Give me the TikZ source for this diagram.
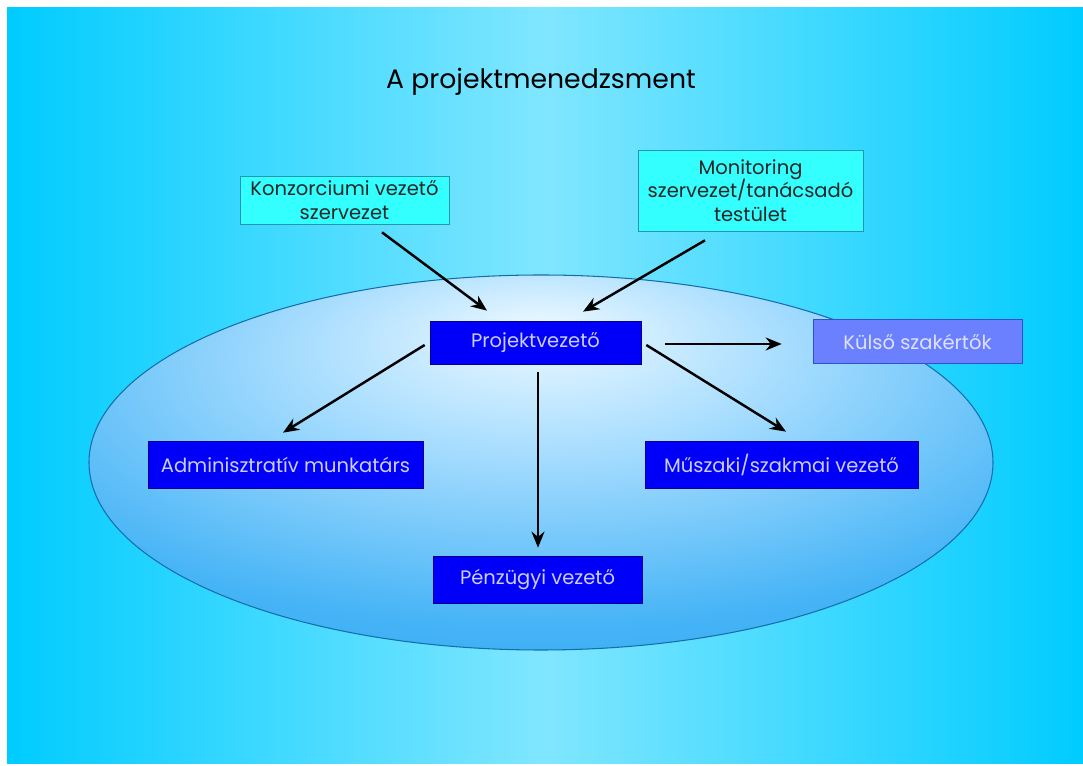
\documentclass[tikz,border=0pt]{standalone}
\usepackage{fontspec}
\setmainfont{Poppins}
\usepackage{xcolor}
\usepackage{tikz}
\usetikzlibrary{shapes, arrows.meta, positioning, calc}

\definecolor{bgedge}{RGB}{0,204,255}
\definecolor{bgmid}{RGB}{128,230,255}
\definecolor{ovalline}{RGB}{20,110,170}
\definecolor{ovalin}{RGB}{238,249,255}
\definecolor{ovalmid}{RGB}{175,224,255}
\definecolor{ovalout}{RGB}{70,180,246}
\definecolor{ovaledge}{RGB}{28,156,240}
\definecolor{cyanbox}{RGB}{51,255,255}
\definecolor{cyanline}{RGB}{40,150,170}
\definecolor{bluebox}{RGB}{0,0,250}
\definecolor{blueline}{RGB}{0,0,140}
\definecolor{bluetext}{RGB}{205,205,255}
\definecolor{lightbox}{RGB}{106,128,255}
\definecolor{lightline}{RGB}{50,80,200}

\pgfdeclareradialshading{ovalshade}{\pgfpoint{0bp}{18bp}}{%
	color(0bp)=(ovalin);
	color(12bp)=(ovalmid);
	color(32bp)=(ovalout);
	color(52bp)=(ovaledge);
	color(75bp)=(ovaledge)}

\tikzset{
	cyanstyle/.style={draw=cyanline, fill=cyanbox, text=black!85, align=center, inner sep=0pt, font=\fontsize{11.1}{13.5}\selectfont},
	bluestyle/.style={draw=blueline, fill=bluebox, text=bluetext, align=center, inner sep=0pt, font=\fontsize{11.1}{13.5}\selectfont},
	lightstyle/.style={draw=lightline, fill=lightbox, text=white!88!blue, align=center, inner sep=0pt, font=\fontsize{11.1}{13.5}\selectfont},
}

\begin{document}
\begin{tikzpicture}[x=0.02cm, y=-0.02cm, >={Stealth[length=0.32cm, width=0.26cm]}]
		\useasboundingbox (0,0) rectangle (1083,766);
		\fill[white] (0,0) rectangle (1083,766);
		\shade[left color=bgedge, right color=bgedge, middle color=bgmid] (7,8) rectangle (1083,764);

		% the oval behind the team
		\shade[shading=ovalshade] (541,462.5) ellipse [x radius=452, y radius=187.5];
		\draw[ovalline, line width=0.6pt] (541,462.5) ellipse [x radius=452, y radius=187.5];

		\node (0) at (541,82) {\fontsize{15.2}{18}\selectfont A projektmenedzsment};

		\node[cyanstyle, minimum width=4.18cm, minimum height=0.96cm] (1) at (344.5,200) {Konzorciumi vezető\\szervezet};
		\node[cyanstyle, minimum width=4.5cm, minimum height=1.62cm] (2) at (750.5,190.5) {Monitoring\\szervezet/tanácsadó\\testület};
		\node[bluestyle, minimum width=4.22cm, minimum height=0.86cm] (3) at (535.5,342.5) {Projektvezető};
		\node[lightstyle, minimum width=4.18cm, minimum height=0.88cm] (4) at (917.5,341.5) {Külső szakértők};
		\node[bluestyle, minimum width=5.5cm, minimum height=0.94cm] (5) at (285.5,464.5) {Adminisztratív munkatárs};
		\node[bluestyle, minimum width=5.46cm, minimum height=0.94cm] (6) at (781.5,464.5) {Műszaki/szakmai vezető};
		\node[bluestyle, minimum width=4.18cm, minimum height=0.94cm] (7) at (537.5,579.5) {Pénzügyi vezető};

		\draw[->, line width=1.4pt] ($(1.south)+(37.5,8)$) to ($(3.north)+(-48.5,-10)$);
		\draw[->, line width=1.4pt] ($(2.south)+(-45.5,9)$) to ($(3.north)+(47.5,-9)$);
		\draw[->, line width=1.4pt] ($(3.east)+(24,1.5)$) to ($(4.west)+(-31,2.5)$);
		\draw[->, line width=1.4pt] ($(3.west)+(-5,2.5)$) to ($(5.north)+(-2.5,-8)$);
		\draw[->, line width=1.4pt] ($(3.east)+(5,2.5)$) to ($(6.north)+(4.5,-9)$);
		\draw[->, line width=1.4pt] ($(3.south)+(2.5,8)$) to ($(7.north)+(0.5,-8)$);

	\end{tikzpicture}
\end{document}
